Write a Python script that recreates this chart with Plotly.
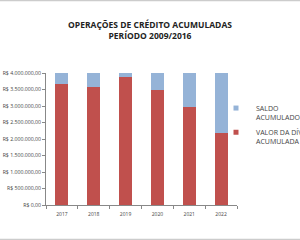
import plotly.graph_objects as go

years = ["2017", "2018", "2019", "2020", "2021", "2022"]
divida = [3670000, 3580000, 3880000, 3480000, 2970000, 2180000]
saldo = [330000, 420000, 120000, 520000, 1030000, 1820000]
ytick_vals = [0, 500000, 1000000, 1500000, 2000000, 2500000, 3000000, 3500000, 4000000]
ytick_text = ["R$ 0,00", "R$ 500.000,00", "R$ 1.000.000,00", "R$ 1.500.000,00",
              "R$ 2.000.000,00", "R$ 2.500.000,00", "R$ 3.000.000,00",
              "R$ 3.500.000,00", "R$ 4.000.000,00"]
name_divida = "VALOR DA DÍVIDA<br>ACUMULADA"
name_saldo = "SALDO<br>ACUMULADO"
col_divida = "#C0504D"
col_saldo = "#95B3D7"

font = "Open Sans"
fig = go.Figure()
fig.add_trace(go.Bar(x=years, y=divida, name=name_divida, showlegend=False,
                     marker=dict(color=col_divida, line=dict(width=0))))
fig.add_trace(go.Bar(x=years, y=saldo, name=name_saldo, showlegend=False,
                     marker=dict(color=col_saldo, line=dict(width=0))))
# legend entries (small square keys)
fig.add_trace(go.Scatter(x=[None], y=[None], mode="markers", name=name_saldo,
                         legendgroup="b",
                         marker=dict(symbol="square", size=5, color=col_saldo)))
fig.add_trace(go.Scatter(x=[None], y=[None], mode="markers", name=name_divida,
                         legendgroup="a",
                         marker=dict(symbol="square", size=5, color=col_divida)))

fig.update_layout(
    width=300, height=240,
    barmode="stack", bargap=0.59,
    margin=dict(l=46, r=63, t=73, b=35, autoexpand=False),
    paper_bgcolor="white", plot_bgcolor="white",
    title=dict(text="<b>OPERAÇÕES DE CRÉDITO ACUMULADAS<br>PERÍODO 2009/2016</b>",
               x=0.5, xanchor="center", y=0.885, yanchor="middle",
               font=dict(family=font, size=8.5, color="#222")),
    legend=dict(xref="container", yref="container", x=0.72, y=1 - 97 / 240,
                xanchor="left", yanchor="top", traceorder="grouped", valign="top",
                font=dict(family=font, size=7, color="#444"),
                tracegroupgap=3, itemwidth=30, bgcolor="rgba(0,0,0,0)"),
    font=dict(family=font, color="#444"),
    xaxis=dict(showline=True, linecolor="#888", linewidth=1, ticks="outside",
               tickson="boundaries", ticklen=3, tickcolor="#888",
               ticklabelstandoff=4,
               tickfont=dict(size=5, color="#444"), showgrid=False),
    yaxis=dict(range=[0, 4000000], tickvals=ytick_vals, ticktext=ytick_text,
               showline=True, linecolor="#888", linewidth=1, ticks="outside",
               ticklen=3, tickcolor="#888", tickfont=dict(size=5.2, color="#444"),
               showgrid=False, zeroline=False),
    shapes=[
        dict(type="line", xref="paper", yref="paper", x0=-0.3, x1=1.4,
             y0=(73 - 0.5) / 132 + 1, y1=(73 - 0.5) / 132 + 1,
             line=dict(color="#ccc", width=1.5)),
        dict(type="line", xref="paper", yref="paper", x0=-0.3, x1=1.4,
             y0=-(34.5 / 132), y1=-(34.5 / 132), line=dict(color="#ccc", width=1.5)),
    ],
)
fig.write_html("out.html")
